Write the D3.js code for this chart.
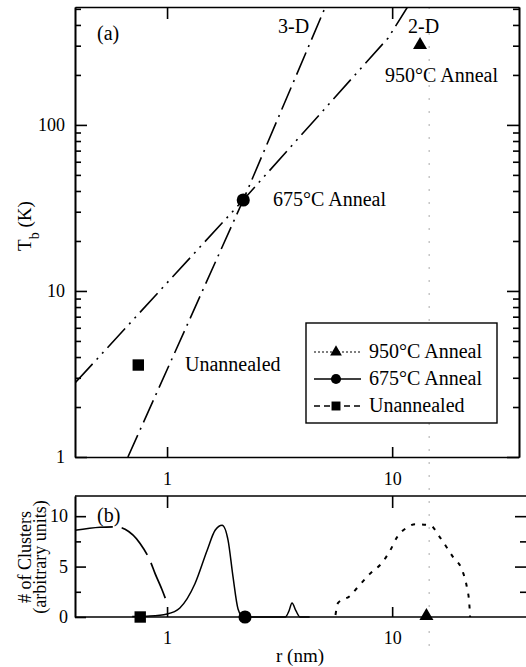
<!DOCTYPE html>
<html>
<head>
<meta charset="utf-8">
<script src="https://cdn.jsdelivr.net/npm/d3@7"></script>
<style>
  body { margin: 0; background: #fff; }
  svg { display: block; }
  svg text { font-family: "Liberation Serif", "Times New Roman", Times, serif; fill: #000; }
  .axis path, .axis line { stroke: #000; stroke-width: 1.6; }
  .axis text { font-size: 18px; font-family: "Liberation Serif", "Times New Roman", Times, serif; }
</style>
</head>
<body>
<svg width="526" height="667"></svg>
<script>
"use strict";

var SERIF = '"Liberation Serif", "Times New Roman", Times, serif';

// panel (a): fitted lines, r (nm) vs Tb (K)
var line3D_r = [0.67, 2.18, 5.05];
var line3D_T = [1, 35.3, 513];
var line2D_r = [0.39, 2.18, 6.7, 9.6, 11.7];
var line2D_T = [2.79, 35.3, 194, 334, 513];

// panel (a): measured points
var pointNames = ['Unannealed', '675°C Anneal', '950°C Anneal'];
var pointR = [0.745, 2.18, 13.3];
var pointT = [3.58, 35.3, 303];

// panel (b): cluster size distributions
var distUnannealed_r = [0.39, 0.504, 0.60, 0.651, 0.759, 0.84, 0.885, 0.95, 1.0];
var distUnannealed_v = [8.6, 8.9, 8.95, 8.7, 7.3, 5.6, 4.3, 2.7, 1.4];

var dist675_r = [0.70, 0.84, 1.0, 1.14, 1.33, 1.506, 1.635, 1.757, 1.867, 1.963, 2.067, 2.18, 3.35, 3.48, 3.59, 3.74, 3.90, 4.3];
var dist675_v = [0.05, 0.1, 0.3, 0.9, 3.3, 6.6, 8.6, 9.1, 7.6, 4.0, 0.8, 0, 0, 0.6, 1.4, 0.6, 0, 0];

var dist950_r = [5.6, 5.75, 6.5, 7.0, 7.98, 9.03, 9.8, 10.5, 11.7, 12.65, 14.75, 16.3, 18.7, 20.5, 21.5, 22.0, 22.2];
var dist950_v = [0.2, 1.4, 2.1, 2.9, 4.3, 5.4, 6.6, 7.9, 8.9, 9.2, 9.1, 7.9, 5.9, 4.6, 2.9, 1.4, 0];

// panel (b): markers on the baseline
var baseR = [0.76, 2.22, 14.2];
var annealR = 14.6; // dotted guide for the 950 anneal

var xTickVals = [1, 10];
var yTopTicks = [1, 10, 100];
var yBotTicks = [0, 5, 10];
var yBotMinor = [2.5, 7.5];

var svg = d3.select('svg');

var x = d3.scaleLog().domain([0.39, 36.6]).range([75, 519]);
var yTop = d3.scaleLog().domain([1, 513]).range([457, 7]);
var yBot = d3.scaleLinear().domain([0, 12]).range([617, 496]);

var minorTop = [];
[1, 10, 100].forEach(function(d) {
    for (var k = 2; k <= 9; k++) {
        if (d * k < 513) minorTop.push(d * k);
    }
});

function zip(a, b) {
    return a.map(function(d, i) { return [d, b[i]]; });
}

// ---------- panel (a) ----------
svg.append('clipPath').attr('id', 'clipA')
    .append('rect')
    .attr('x', x.range()[0]).attr('y', yTop.range()[1])
    .attr('width', x.range()[1] - x.range()[0])
    .attr('height', yTop.range()[0] - yTop.range()[1]);

// dotted vertical guide through both panels
svg.append('line')
    .attr('x1', x(annealR)).attr('x2', x(annealR))
    .attr('y1', yTop.range()[1]).attr('y2', 655)
    .attr('stroke', '#aaa').attr('stroke-width', 1)
    .attr('stroke-dasharray', '2,11');

var topG = svg.append('g');

topG.append('g').attr('class', 'axis')
    .attr('transform', 'translate(' + x.range()[0] + ',0)')
    .call(d3.axisLeft(yTop).tickValues(yTopTicks).tickFormat(d3.format('d'))
        .tickSize(-12).tickSizeOuter(0).tickPadding(10));
topG.append('g').attr('class', 'axis')
    .attr('transform', 'translate(' + x.range()[0] + ',0)')
    .call(d3.axisLeft(yTop).tickValues(minorTop).tickFormat('')
        .tickSize(-6).tickSizeOuter(0));
topG.append('g').attr('class', 'axis')
    .attr('transform', 'translate(' + x.range()[1] + ',0)')
    .call(d3.axisRight(yTop).tickValues(yTopTicks).tickFormat('')
        .tickSize(-12).tickSizeOuter(0));
topG.append('g').attr('class', 'axis')
    .attr('transform', 'translate(' + x.range()[1] + ',0)')
    .call(d3.axisRight(yTop).tickValues(minorTop).tickFormat('')
        .tickSize(-6).tickSizeOuter(0));
topG.append('g').attr('class', 'axis')
    .attr('transform', 'translate(0,' + yTop.range()[0] + ')')
    .call(d3.axisBottom(x).tickValues(xTickVals).tickFormat(d3.format('d'))
        .tickSize(-10).tickSizeOuter(0).tickPadding(15));
topG.append('g').attr('class', 'axis')
    .attr('transform', 'translate(0,' + yTop.range()[1] + ')')
    .call(d3.axisTop(x).tickValues(xTickVals).tickFormat('')
        .tickSize(-12).tickSizeOuter(0));

var logLine = d3.line()
    .x(function(d) { return x(d[0]); })
    .y(function(d) { return yTop(d[1]); });

var linesA = topG.append('g').attr('clip-path', 'url(#clipA)');
linesA.append('path')
    .datum(zip(line3D_r, line3D_T))
    .attr('d', logLine)
    .attr('fill', 'none').attr('stroke', '#000').attr('stroke-width', 1.6)
    .attr('stroke-dasharray', '24,6,2,6');
linesA.append('path')
    .datum(zip(line2D_r, line2D_T))
    .attr('d', logLine)
    .attr('fill', 'none').attr('stroke', '#000').attr('stroke-width', 1.6)
    .attr('stroke-dasharray', '26,6,2,6,2,6');

var symSquare = d3.symbol().type(d3.symbolSquare).size(130);
var symCircle = d3.symbol().type(d3.symbolCircle).size(135);
var symTri = d3.symbol().type(d3.symbolTriangle).size(85);
var symbols = [symSquare, symCircle, symTri];

pointR.forEach(function(r, i) {
    topG.append('path')
        .attr('d', symbols[i]())
        .attr('transform', 'translate(' + x(r) + ',' + yTop(pointT[i]) + ')')
        .attr('fill', '#000');
});

function label(g, txt, px, py, size) {
    return g.append('text')
        .attr('x', px).attr('y', py)
        .attr('font-family', SERIF)
        .attr('font-size', size || 20)
        .attr('fill', '#000')
        .text(txt);
}

label(topG, '(a)', 97, 40);
label(topG, '3-D', 278, 33);
label(topG, '2-D', 408, 33);
label(topG, pointNames[2], 385, 82);
label(topG, pointNames[1], 273, 206);
label(topG, pointNames[0], 185, 371);

var yLabA = topG.append('text')
    .attr('transform', 'translate(31,226) rotate(-90)')
    .attr('text-anchor', 'middle')
    .attr('font-family', SERIF)
    .attr('font-size', 19);
yLabA.append('tspan').text('T');
yLabA.append('tspan').attr('baseline-shift', 'sub').attr('font-size', 14).text('b');
yLabA.append('tspan').text(' (K)');

// legend
var leg = topG.append('g').attr('transform', 'translate(306,323)');
leg.append('rect')
    .attr('width', 191).attr('height', 100)
    .attr('fill', '#fff').attr('stroke', '#000').attr('stroke-width', 1.4);
var legNames = [pointNames[2], pointNames[1], pointNames[0]];
var legSym = [
    d3.symbol().type(d3.symbolTriangle).size(60),
    d3.symbol().type(d3.symbolCircle).size(80),
    d3.symbol().type(d3.symbolSquare).size(80)
];
var legDash = ['2,2', null, '6,4'];
var legColor = ['#555', '#000', '#000'];
legNames.forEach(function(name, i) {
    var yy = 29 + i * 27;
    leg.append('line')
        .attr('x1', 8).attr('x2', 55).attr('y1', yy).attr('y2', yy)
        .attr('stroke', legColor[i]).attr('stroke-width', 1.5)
        .attr('stroke-dasharray', legDash[i]);
    leg.append('path')
        .attr('d', legSym[i]())
        .attr('transform', 'translate(30,' + yy + ')')
        .attr('fill', '#000');
    label(leg, name, 63, yy + 6);
});

// ---------- panel (b) ----------
var botG = svg.append('g');

botG.append('g').attr('class', 'axis')
    .attr('transform', 'translate(' + x.range()[0] + ',0)')
    .call(d3.axisLeft(yBot).tickValues(yBotTicks)
        .tickSize(-11).tickSizeOuter(0).tickPadding(7));
botG.append('g').attr('class', 'axis')
    .attr('transform', 'translate(' + x.range()[0] + ',0)')
    .call(d3.axisLeft(yBot).tickValues(yBotMinor).tickFormat('')
        .tickSize(-6).tickSizeOuter(0));
var rightB = botG.append('g').attr('class', 'axis')
    .attr('transform', 'translate(526,0)')
    .call(d3.axisRight(yBot).tickValues(yBotTicks.slice(1)).tickFormat('')
        .tickSize(-11).tickSizeOuter(0));
rightB.select('.domain').remove();
var rightBm = botG.append('g').attr('class', 'axis')
    .attr('transform', 'translate(526,0)')
    .call(d3.axisRight(yBot).tickValues(yBotMinor).tickFormat('')
        .tickSize(-6).tickSizeOuter(0));
rightBm.select('.domain').remove();

var botAx = botG.append('g').attr('class', 'axis')
    .attr('transform', 'translate(0,' + yBot.range()[0] + ')')
    .call(d3.axisBottom(x).tickValues(xTickVals).tickFormat(d3.format('d'))
        .tickSize(-10).tickSizeOuter(0).tickPadding(14));
botAx.select('.domain').attr('d', 'M' + x.range()[0] + ',0H526');
var topAx = botG.append('g').attr('class', 'axis')
    .attr('transform', 'translate(0,' + yBot.range()[1] + ')')
    .call(d3.axisTop(x).tickValues(xTickVals).tickFormat('')
        .tickSize(-12).tickSizeOuter(0));
topAx.select('.domain').attr('d', 'M' + x.range()[0] + ',0H526');

var linLine = d3.line()
    .x(function(d) { return x(d[0]); })
    .y(function(d) { return yBot(d[1]); })
    .curve(d3.curveMonotoneX);

botG.append('path')
    .datum(zip(distUnannealed_r, distUnannealed_v))
    .attr('d', linLine)
    .attr('fill', 'none').attr('stroke', '#000').attr('stroke-width', 1.7)
    .attr('stroke-dasharray', '38,9');
botG.append('path')
    .datum(zip(dist675_r, dist675_v))
    .attr('d', linLine)
    .attr('fill', 'none').attr('stroke', '#000').attr('stroke-width', 1.5);
botG.append('path')
    .datum(zip(dist950_r, dist950_v))
    .attr('d', linLine)
    .attr('fill', 'none').attr('stroke', '#000').attr('stroke-width', 2)
    .attr('stroke-dasharray', '4,7');

baseR.forEach(function(r, i) {
    botG.append('path')
        .attr('d', symbols[i]())
        .attr('transform', 'translate(' + x(r) + ',' + (yBot(0) - (i === 2 ? 1 : 0)) + ')')
        .attr('fill', '#000');
});

label(botG, '(b)', 97, 522);

botG.append('text')
    .attr('x', 300).attr('y', 662)
    .attr('text-anchor', 'middle')
    .attr('font-family', SERIF)
    .attr('font-size', 19)
    .text('r (nm)');

botG.append('text')
    .attr('transform', 'translate(31,557) rotate(-90)')
    .attr('text-anchor', 'middle')
    .attr('font-family', SERIF)
    .attr('font-size', 18)
    .text('# of Clusters');
botG.append('text')
    .attr('transform', 'translate(46,557) rotate(-90)')
    .attr('text-anchor', 'middle')
    .attr('font-family', SERIF)
    .attr('font-size', 18)
    .text('(arbitrary units)');
</script>
</body>
</html>
